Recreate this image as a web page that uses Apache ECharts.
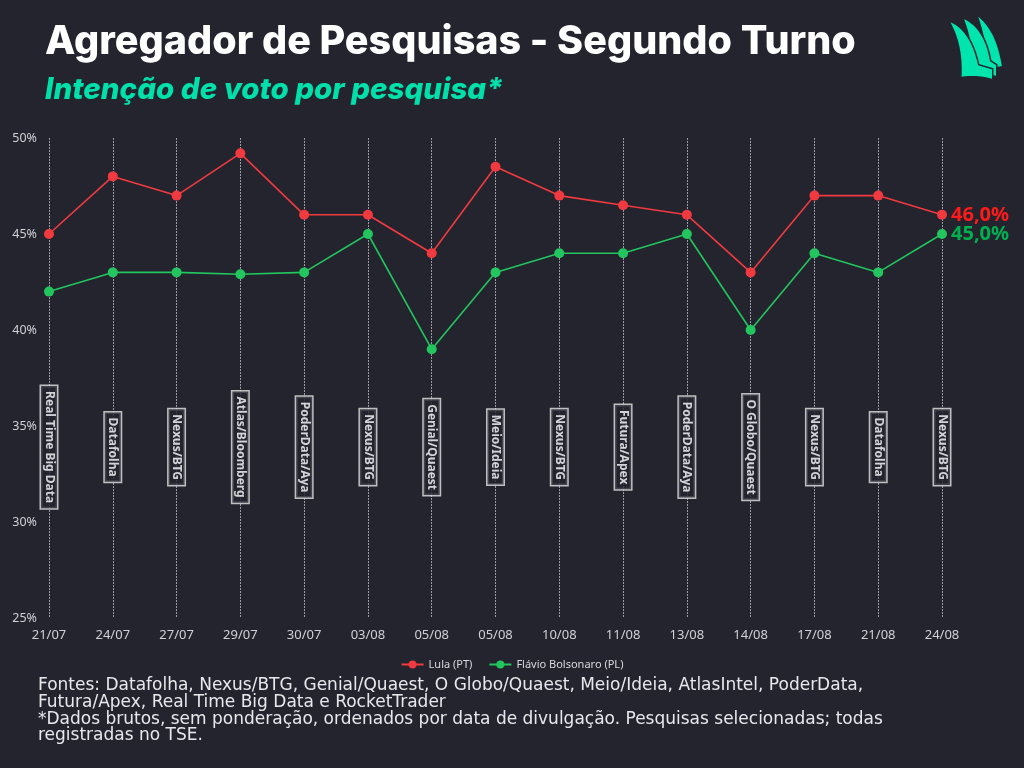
<!DOCTYPE html>
<html>
<head>
<meta charset="utf-8">
<script src="https://cdn.jsdelivr.net/npm/echarts@6/dist/echarts.min.js"></script>
<style>
html,body{margin:0;padding:0;background:#24242f;}
#c{width:1024px;height:768px;}
</style>
</head>
<body>
<div id="c"></div>
<script>
const categories = ['21/07','24/07','27/07','29/07','30/07','03/08','05/08','05/08','10/08','11/08','13/08','14/08','17/08','21/08','24/08'];
const pollsters = ['Real Time Big Data','Datafolha','Nexus/BTG','Atlas/Bloomberg','PoderData/Aya','Nexus/BTG','Genial/Quaest','Meio/Ideia','Nexus/BTG','Futura/Apex','PoderData/Aya','O Globo/Quaest','Nexus/BTG','Datafolha','Nexus/BTG'];
const lula = [45,48,47,49.2,46,46,44,48.5,47,46.5,46,43,47,47,46];
const flavio = [42,43,43,42.9,43,45,39,43,44,44,45,40,44,43,45];
const seriesNames = ['Lula (PT)','Flávio Bolsonaro (PL)'];
const yMin = 25, yMax = 50, yStep = 5;

const BG = '#24242f';
const RED = '#f03a3f';
const GREEN = '#22c55e';
const LABEL_LEVEL = 33.9;

const chart = echarts.init(document.getElementById('c'), null, {renderer:'canvas'});

const fmtEnd = p => p.value.toFixed(1).replace('.', ',') + '%';

// logo outline helper: sample quadratic curves into polygon points
function shapePts(segs) {
  const pts = [];
  segs.forEach(s => {
    if (s.length === 2) { pts.push(s); return; }
    const [p0, c, p1] = s;
    for (let k = 0; k <= 12; k++) {
      const t = k / 12;
      pts.push([
        (1-t)*(1-t)*p0[0] + 2*(1-t)*t*c[0] + t*t*p1[0],
        (1-t)*(1-t)*p0[1] + 2*(1-t)*t*c[1] + t*t*p1[1]
      ]);
    }
  });
  return pts;
}
const sailBack = shapePts([[[28,0],[48,14],[54,52]], [40,54], [[40,54],[36,22],[28,0]]]);
const sailMid = shapePts([[[14,3],[36,12],[42,46]], [48,50], [48,62], [[48,62],[34,58],[24,62]], [[24,62],[24,28],[14,3]]]);
const sailFront = shapePts([[[0,6],[22,14],[30,50]], [44,54], [44,65], [[44,65],[26,60],[12,63]], [[12,63],[14,30],[0,6]]]);

const option = {
  backgroundColor: BG,
  animation: false,
  grid: {left: 49, right: 82, top: 138, bottom: 150, containLabel: false},
  legend: {
    data: seriesNames,
    top: 654, left: 'center',
    itemWidth: 22, itemHeight: 10, itemGap: 16,
    textStyle: {color: '#d8d8dc', fontSize: 11, fontFamily: 'Noto Sans'}
  },
  xAxis: {
    type: 'category', data: categories, boundaryGap: false,
    axisLine: {show: false}, axisTick: {show: false},
    axisLabel: {color: '#d0d0d6', fontSize: 13, margin: 11, fontFamily: 'Noto Sans', interval: 0},
    splitLine: {show: true, lineStyle: {color: '#9a9aa4', width: 1, type: [2, 1]}}
  },
  yAxis: {
    type: 'value', min: yMin, max: yMax, interval: yStep,
    axisLine: {show: false}, axisTick: {show: false},
    axisLabel: {color: '#d0d0d6', fontSize: 12.5, margin: 12, fontFamily: 'Noto Sans', formatter: '{value}%'},
    splitLine: {show: false}
  },
  series: [
    {
      name: seriesNames[0], type: 'line', data: lula,
      color: RED, symbol: 'circle', symbolSize: 10,
      lineStyle: {width: 1.6, color: RED},
      itemStyle: {color: RED},
      endLabel: {show: true, formatter: fmtEnd, color: '#ff1a1a', fontSize: 20, fontWeight: 'bold', fontFamily: 'Noto Sans', distance: 9},
      z: 3
    },
    {
      name: seriesNames[1], type: 'line', data: flavio,
      color: GREEN, symbol: 'circle', symbolSize: 10,
      lineStyle: {width: 1.6, color: GREEN},
      itemStyle: {color: GREEN},
      endLabel: {show: true, formatter: fmtEnd, color: '#00b04f', fontSize: 20, fontWeight: 'bold', fontFamily: 'Noto Sans', distance: 9},
      z: 3
    },
    {
      name: 'pesquisas', type: 'scatter', symbolSize: 1, silent: true,
      itemStyle: {color: 'rgba(0,0,0,0)'},
      data: pollsters.map((p, i) => ({value: [i, LABEL_LEVEL], name: p})),
      label: {
        show: true, position: 'inside', rotate: -90,
        formatter: p => p.name,
        color: '#ffffff', fontSize: 12, fontWeight: 'bold', fontFamily: 'Noto Sans',
        backgroundColor: BG, borderColor: '#e6e6e6', borderWidth: 1.5,
        padding: [2, 5, 2, 5]
      },
      z: 4
    }
  ],
  graphic: [
    {type: 'text', left: 45, top: 22, style: {text: 'Agregador de Pesquisas - Segundo Turno', fill: '#ffffff', font: '800 39.5px Inter'}},
    {type: 'text', left: 45, top: 75, style: {text: 'Intenção de voto por pesquisa*', fill: '#00e0aa', font: 'italic 800 29.5px Inter'}},
    {type: 'text', left: 38, top: 677, style: {
      text: 'Fontes: Datafolha, Nexus/BTG, Genial/Quaest, O Globo/Quaest, Meio/Ideia, AtlasIntel, PoderData,\nFutura/Apex, Real Time Big Data e RocketTrader\n*Dados brutos, sem ponderação, ordenados por data de divulgação. Pesquisas selecionadas; todas\nregistradas no TSE.',
      fill: '#e8e8ec', font: '17px "DejaVu Sans"', lineHeight: 16.8}},
    {type: 'group', left: 948, top: 14, children: [
      {type: 'polygon', shape: {points: sailBack}, style: {fill: '#00e5ae', stroke: BG, lineWidth: 1.5}},
      {type: 'polygon', shape: {points: sailMid}, style: {fill: '#00e5ae', stroke: BG, lineWidth: 1.5}},
      {type: 'polygon', shape: {points: sailFront}, style: {fill: '#00e5ae', stroke: BG, lineWidth: 1.5}}
    ]}
  ]
};
chart.setOption(option);
</script>
</body>
</html>
